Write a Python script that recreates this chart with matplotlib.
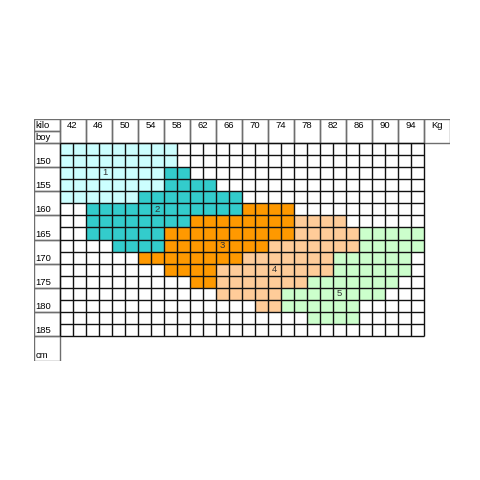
import numpy as np
import matplotlib
matplotlib.use('Agg')
from matplotlib import pyplot as plt
from matplotlib.colors import ListedColormap
from matplotlib.patches import Rectangle

plt.rcParams['font.family'] = ['Liberation Sans', 'DejaVu Sans']

# header labels
weights = [42, 46, 50, 54, 58, 62, 66, 70, 74, 78, 82, 86, 90, 94]
heights = [150, 155, 160, 165, 170, 175, 180, 185]

# size zones: (grid row, first col, last col), 2 cols per weight label, 2 rows per height label
zone1 = [(0, 0, 8), (1, 0, 8), (2, 0, 7), (3, 0, 7), (4, 0, 5)]
zone2 = [(2, 8, 9), (3, 8, 11), (4, 6, 13), (5, 2, 13), (6, 2, 9), (7, 2, 7), (8, 4, 7)]
zone3 = [(5, 14, 17), (6, 10, 17), (7, 8, 17), (8, 8, 15), (9, 6, 13), (10, 8, 11), (11, 10, 11)]
zone4 = [(6, 18, 21), (7, 18, 22), (8, 16, 22), (9, 14, 20), (10, 12, 20),
         (11, 12, 18), (12, 12, 16), (13, 15, 16)]
zone5 = [(7, 23, 27), (8, 23, 27), (9, 21, 26), (10, 21, 26), (11, 19, 25),
         (12, 17, 24), (13, 17, 22), (14, 19, 22)]
zones = [zone1, zone2, zone3, zone4, zone5]
zone_labels = ['1', '2', '3', '4', '5']
zone_label_cells = [(2, 3), (5, 7), (8, 12), (10, 16), (12, 21)]
zone_colors = ['#CCFFFF', '#33CCCC', '#FF9900', '#FFCC99', '#CCFFCC']

n_cols = 2 * len(weights)
n_rows = 2 * len(heights)

grid = np.zeros((n_rows, n_cols))
for k, z in enumerate(zones):
    for r, c0, c1 in z:
        grid[r, c0:c1 + 1] = k + 1

fig = plt.figure(figsize=[4.8, 4.8], dpi=100)
ax = fig.add_axes([33.5 / 480, (480 - 360.5) / 480, 416 / 480, 242 / 480])
ax.set_xlim(-2, n_cols + 2)
ax.set_ylim(n_rows + 2, -2)
ax.axis('off')

cmap = ListedColormap(['white'] + zone_colors)
ax.pcolormesh(np.arange(n_cols + 1), np.arange(n_rows + 1), grid, cmap=cmap,
              vmin=-0.5, vmax=len(zones) + 0.5)

# cell lines
ax.vlines(np.arange(n_cols + 1), 0, n_rows, color='#111111', lw=1.0)
ax.hlines(np.arange(n_rows + 1), 0, n_cols, color='#111111', lw=1.0)

box = dict(fill=False, edgecolor='#6e6e6e', lw=1.0)
fs = 6.8

# top header
for i, w in enumerate(weights):
    ax.add_patch(Rectangle((2 * i, -2), 2, 2, **box))
    ax.text(2 * i + 1, -1.42, str(w), ha='center', va='center', fontsize=fs)
ax.add_patch(Rectangle((n_cols, -2), 2, 2, **box))
ax.text(n_cols + 1, -1.42, 'Kg', ha='center', va='center', fontsize=fs)
ax.add_patch(Rectangle((-2, -2), 2, 1, **box))
ax.add_patch(Rectangle((-2, -1), 2, 1, **box))
ax.text(-1.85, -1.42, 'kilo', ha='left', va='center', fontsize=fs)
ax.text(-1.85, -0.47, 'boy', ha='left', va='center', fontsize=fs)

# left header
for k, h in enumerate(heights):
    ax.add_patch(Rectangle((-2, 2 * k), 2, 2, **box))
    ax.text(-1.85, 2 * k + 1.55, str(h), ha='left', va='center', fontsize=fs)
ax.add_patch(Rectangle((-2, n_rows), 2, 2, **box))
ax.text(-1.85, n_rows + 1.55, 'cm', ha='left', va='center', fontsize=fs)

# zone numbers
for lab, (r, c) in zip(zone_labels, zone_label_cells):
    ax.text(c + 0.5, r + 0.5, lab, ha='center', va='center', fontsize=fs, color='#333333')

fig.savefig('out.png', dpi=100)
